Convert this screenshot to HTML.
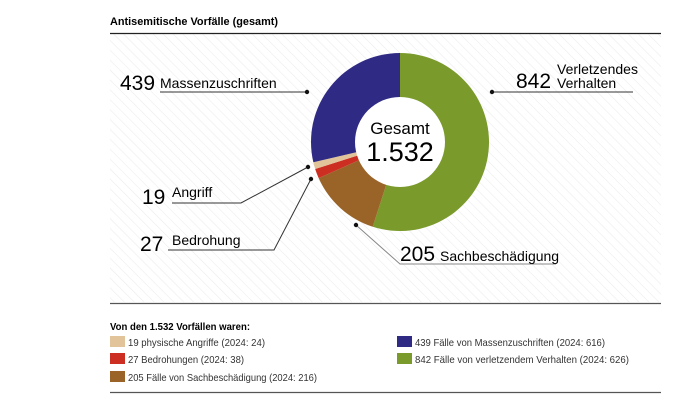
<!DOCTYPE html>
<html><head><meta charset="utf-8"><style>
body{margin:0;width:698px;height:413px;background:#fff;overflow:hidden;font-family:"Liberation Sans Narrow","Liberation Sans",sans-serif;color:#1a1a1a}
svg{position:absolute;left:0;top:0}
</style></head><body>
<svg width="698" height="413">
<defs><pattern id="hatch" width="7" height="7" patternUnits="userSpaceOnUse" patternTransform="rotate(-45)"><line x1="0" y1="0" x2="0" y2="7" stroke="#ececec" stroke-width="1.2"/></pattern></defs>
<rect x="110" y="34" width="551" height="268" fill="url(#hatch)"/>
<text x="110" y="25" font-size="11" font-weight="bold" textLength="168" lengthAdjust="spacingAndGlyphs">Antisemitische Vorfälle (gesamt)</text>
<line x1="110" y1="33.5" x2="661" y2="33.5" stroke="#222" stroke-width="1.2"/>
<g id="donut"></g>
<circle cx="400" cy="142" r="45" fill="#fff"/>
<text x="400" y="134" font-size="17" text-anchor="middle">Gesamt</text>
<text x="400" y="161" font-size="27" text-anchor="middle">1.532</text>
<g fill="none" stroke="#333" stroke-width="1">
<polyline points="160,92 307,92"/>
<polyline points="492,92 633,92"/>
<polyline points="172,203 241,203 308,167"/>
<polyline points="168,250 274,250 311,179"/>
<polyline points="356,225 400,264 556,264" stroke="#888"/>
</g>
<g fill="#111"><circle cx="307" cy="92" r="2.2"/><circle cx="492" cy="92" r="2.2"/><circle cx="308" cy="167" r="2.2"/><circle cx="311" cy="179" r="2.2"/><circle cx="356" cy="225" r="2.2"/></g>
<g><text x="120" y="90" font-size="21">439</text><text x="160" y="88" font-size="14">Massenzuschriften</text></g>
<g><text x="516" y="88" font-size="21">842</text><text x="557" y="74" font-size="14">Verletzendes</text><text x="557" y="88" font-size="14">Verhalten</text></g>
<g><text x="142" y="204" font-size="21">19</text><text x="172" y="197" font-size="14">Angriff</text></g>
<g><text x="140" y="251" font-size="21">27</text><text x="172" y="245" font-size="14">Bedrohung</text></g>
<g><text x="400" y="261" font-size="21">205</text><text x="440" y="261" font-size="14">Sachbeschädigung</text></g>
<line x1="110" y1="303.5" x2="661" y2="303.5" stroke="#555" stroke-width="1.2"/>
<text x="110" y="330" font-size="10.5" font-weight="bold" textLength="140" lengthAdjust="spacingAndGlyphs">Von den 1.532 Vorfällen waren:</text>
<g font-size="10.5" fill="#333">
<rect x="110" y="336" width="15" height="11" fill="#e2c49a"/><text x="128" y="346" textLength="137" lengthAdjust="spacingAndGlyphs">19 physische Angriffe (2024: 24)</text>
<rect x="110" y="353" width="15" height="11" fill="#cc2f22"/><text x="128" y="363" textLength="116" lengthAdjust="spacingAndGlyphs">27 Bedrohungen (2024: 38)</text>
<rect x="110" y="371" width="15" height="11" fill="#9a6428"/><text x="128" y="381" textLength="189" lengthAdjust="spacingAndGlyphs">205 Fälle von Sachbeschädigung (2024: 216)</text>
<rect x="397" y="336" width="15" height="11" fill="#2f2a83"/><text x="415" y="346" textLength="190" lengthAdjust="spacingAndGlyphs">439 Fälle von Massenzuschriften (2024: 616)</text>
<rect x="397" y="353" width="15" height="11" fill="#7a9a2c"/><text x="415" y="363" textLength="214" lengthAdjust="spacingAndGlyphs">842 Fälle von verletzendem Verhalten (2024: 626)</text>
</g>
<line x1="110" y1="392.5" x2="661" y2="392.5" stroke="#555" stroke-width="1.2"/>
</svg>
<script>
const categories=["Verletzendes Verhalten","Sachbeschädigung","Bedrohung","Angriff","Massenzuschriften"];
const values=[842,205,27,19,439];
const colors=["#7a9a2c","#9a6428","#cc2f22","#e2c49a","#2f2a83"];
const g=document.getElementById('donut');
const cx=400,cy=142,R=89;
const total=values.reduce((a,b)=>a+b,0);
let a0=0;
function pt(a,r){return [cx+r*Math.sin(a),cy-r*Math.cos(a)];}
values.forEach((v,i)=>{
 const a1=a0+v/total*2*Math.PI;
 const p0=pt(a0,R),p1=pt(a1,R);
 const large=(a1-a0)>Math.PI?1:0;
 const p=document.createElementNS('http://www.w3.org/2000/svg','path');
 p.setAttribute('d',`M${cx},${cy}L${p0[0]},${p0[1]}A${R},${R} 0 ${large} 1 ${p1[0]},${p1[1]}Z`);
 p.setAttribute('fill',colors[i]);
 
 
 g.appendChild(p);
 a0=a1;
});
</script>
</body></html>
